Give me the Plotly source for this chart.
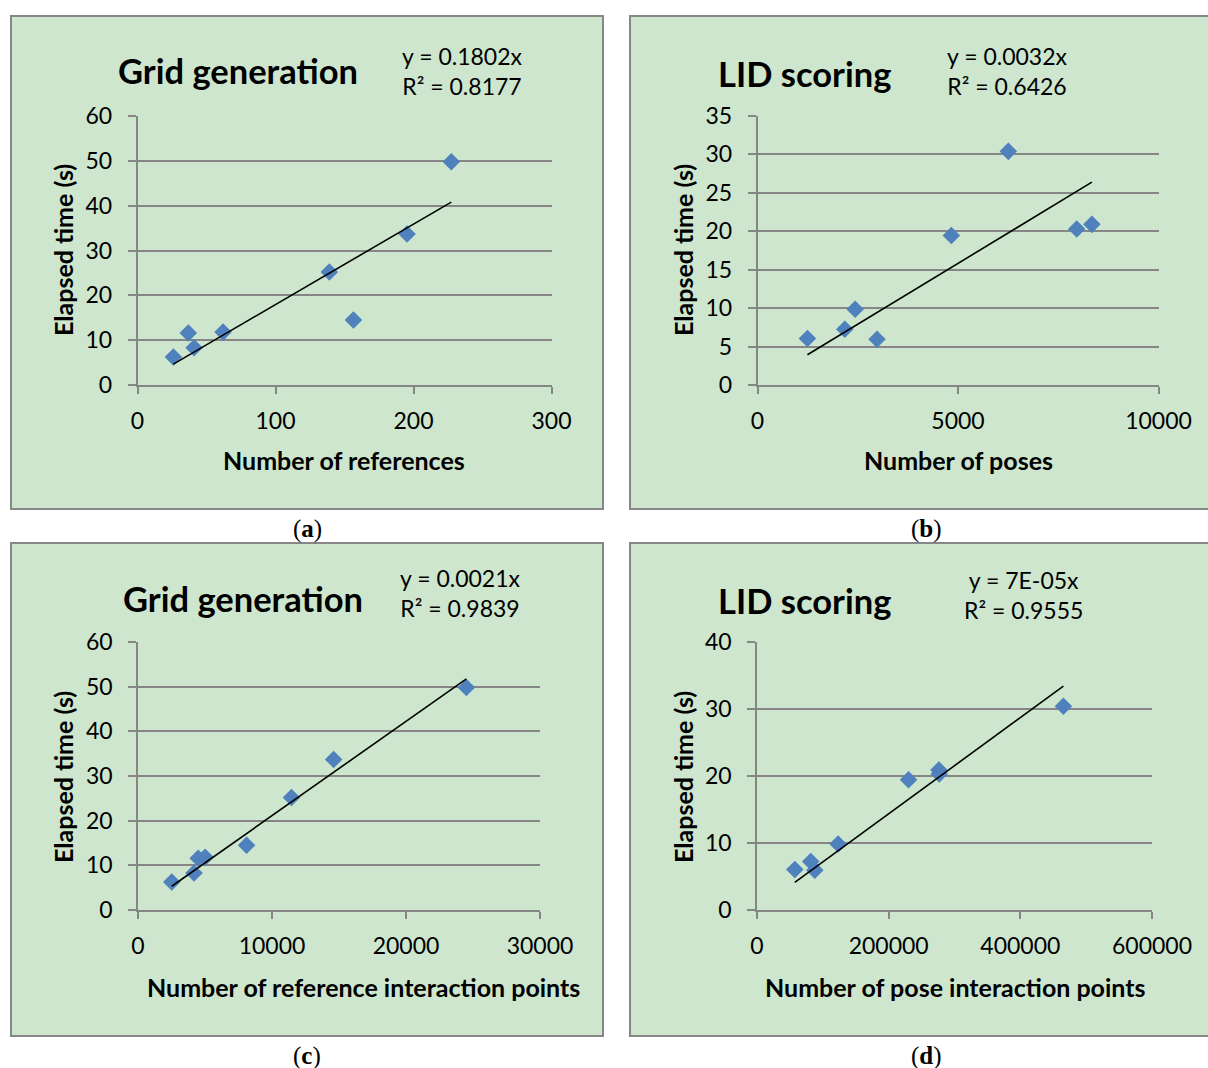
import numpy as np
import plotly.graph_objects as go

# ---------------- data ----------------
grid_refs = [26, 36.8, 41, 62, 139, 156.5, 195.3, 227.4]
grid_ref_points = [2519, 4495, 4180, 5010, 11452, 8102, 14601, 24507]
grid_time = [6.25, 11.6, 8.3, 11.8, 25.2, 14.5, 33.7, 49.8]

lid_poses = [1245, 2177, 2435, 2980, 4834, 6255, 7961, 8339]
lid_pose_points = [57400, 81600, 123200, 87800, 230200, 465400, 276800, 276300]
lid_time = [6.04, 7.25, 9.86, 5.95, 19.45, 30.4, 20.3, 20.9]

titles = ["Grid generation", "LID scoring", "Grid generation", "LID scoring"]
equations = ["y = 0.1802x<br>R² = 0.8177", "y = 0.0032x<br>R² = 0.6426",
             "y = 0.0021x<br>R² = 0.9839", "y = 7E-05x<br>R² = 0.9555"]
xtitles = ["Number of references", "Number of poses",
           "Number of reference interaction points", "Number of pose interaction points"]
ytitle = "Elapsed time (s)"
captions = ["a", "b", "c", "d"]
xranges = [[0, 300], [0, 10000], [0, 30000], [0, 600000]]
xdticks = [100, 5000, 10000, 200000]
yranges = [[0, 60], [0, 35], [0, 60], [0, 40]]
ydticks = [10, 5, 10, 10]

series = [(grid_refs, grid_time), (lid_poses, lid_time),
          (grid_ref_points, grid_time), (lid_pose_points, lid_time)]

# ---------------- layout geometry (pixels) ----------------
W, H = 1208, 1068
def px(x):
    return x / W
def py(y):
    return 1 - y / H

# plot areas: (x0, x1, ytop, ybottom)
areas = [(137.5, 551.5, 116, 385), (757.5, 1158.5, 116, 385),
         (138, 540, 642, 910), (757, 1152, 642, 910)]
panels = [(11, 603, 16, 509), (630, 1212, 16, 509),
          (11, 603, 543, 1036), (630, 1212, 543, 1036)]
title_pos = [(238, 70), (804, 73), (243, 598), (804, 600)]
eq_pos = [(462, 71), (1007, 71), (460, 593), (1023, 595)]
xtitle_pos = [(344, 460), (958, 460), (363, 987), (955, 987)]
ytitle_pos = [(63, 250), (683, 250), (63, 777), (683, 777)]
cap_pos = [(307, 529), (927, 529), (307, 1056), (927, 1056)]

BG = "#cde6cd"
GRID = "#868686"
BLUE = "#4f81bd"
FONT = "Lato"

fig = go.Figure()
layout = dict(width=W, height=H, margin=dict(l=0, r=0, t=0, b=0, pad=0, autoexpand=False),
              paper_bgcolor="white", plot_bgcolor="rgba(0,0,0,0)",
              showlegend=False, shapes=[], annotations=[])

for i in range(4):
    n = "" if i == 0 else str(i + 1)
    xs, ys = series[i]
    xa = np.array(xs, dtype=float)
    ya = np.array(ys, dtype=float)
    slope = float(np.sum(xa * ya) / np.sum(xa * xa))
    fig.add_trace(go.Scatter(x=xs, y=ys, mode="markers", xaxis="x" + n, yaxis="y" + n,
                             marker=dict(symbol="diamond", size=13.5, color=BLUE,
                                         line=dict(width=0))))
    xl = [xa.min(), xa.max()]
    fig.add_trace(go.Scatter(x=xl, y=[slope * v for v in xl], mode="lines",
                             xaxis="x" + n, yaxis="y" + n,
                             line=dict(color="black", width=1.6)))
    x0, x1, yt, yb = areas[i]
    layout["xaxis" + n] = dict(domain=[px(x0), px(x1)], anchor="y" + n,
                              range=xranges[i], dtick=xdticks[i], tick0=0,
                              tickformat="d", showgrid=False, zeroline=False, automargin=False,
                              showline=True, linecolor=GRID, linewidth=1.6,
                              ticks="outside", ticklen=7, tickwidth=1.6, tickcolor=GRID,
                              ticklabelstandoff=8,
                              tickfont=dict(family=FONT, size=23, color="black"))
    layout["yaxis" + n] = dict(domain=[py(yb), py(yt)], anchor="x" + n,
                              range=yranges[i], dtick=ydticks[i], tick0=0,
                              showgrid=True, gridcolor=GRID, gridwidth=1.6, automargin=False,
                              zeroline=False, showline=True, linecolor=GRID, linewidth=1.6,
                              ticks="outside", ticklen=8, tickwidth=1.6, tickcolor=GRID,
                              ticklabelstandoff=11,
                              tickfont=dict(family=FONT, size=23, color="black"))
    # panel background + border
    l, r, t, b = panels[i]
    layout["shapes"].append(dict(type="rect", xref="paper", yref="paper",
                                 x0=px(l), x1=px(r), y0=py(b), y1=py(t),
                                 fillcolor=BG, line=dict(color="#878787", width=2),
                                 layer="below"))
    ann = layout["annotations"]
    ann.append(dict(text="<b>" + titles[i] + "</b>", x=px(title_pos[i][0]), y=py(title_pos[i][1]),
                    xref="paper", yref="paper", showarrow=False, xanchor="center", yanchor="middle",
                    font=dict(family=FONT, size=34.5, color="black")))
    ann.append(dict(text=equations[i], x=px(eq_pos[i][0]), y=py(eq_pos[i][1]),
                    xref="paper", yref="paper", showarrow=False, xanchor="center", yanchor="middle",
                    align="center", font=dict(family=FONT, size=23, color="black")))
    ann.append(dict(text="<b>" + xtitles[i] + "</b>", x=px(xtitle_pos[i][0]), y=py(xtitle_pos[i][1]),
                    xref="paper", yref="paper", showarrow=False, xanchor="center", yanchor="middle",
                    font=dict(family=FONT, size=25, color="black")))
    ann.append(dict(text="<b>" + ytitle + "</b>", x=px(ytitle_pos[i][0]), y=py(ytitle_pos[i][1]),
                    xref="paper", yref="paper", showarrow=False, xanchor="center", yanchor="middle",
                    textangle=-90, font=dict(family=FONT, size=25, color="black")))
    ann.append(dict(text="(<b>" + captions[i] + "</b>)", x=px(cap_pos[i][0]), y=py(cap_pos[i][1]),
                    xref="paper", yref="paper", showarrow=False, xanchor="center", yanchor="middle",
                    font=dict(family="Liberation Serif", size=25, color="black")))

fig.update_layout(**layout)
fig.write_html("out.html", config={"displayModeBar": False},
               post_script="document.body.style.margin='0';document.body.style.overflow='hidden';")
